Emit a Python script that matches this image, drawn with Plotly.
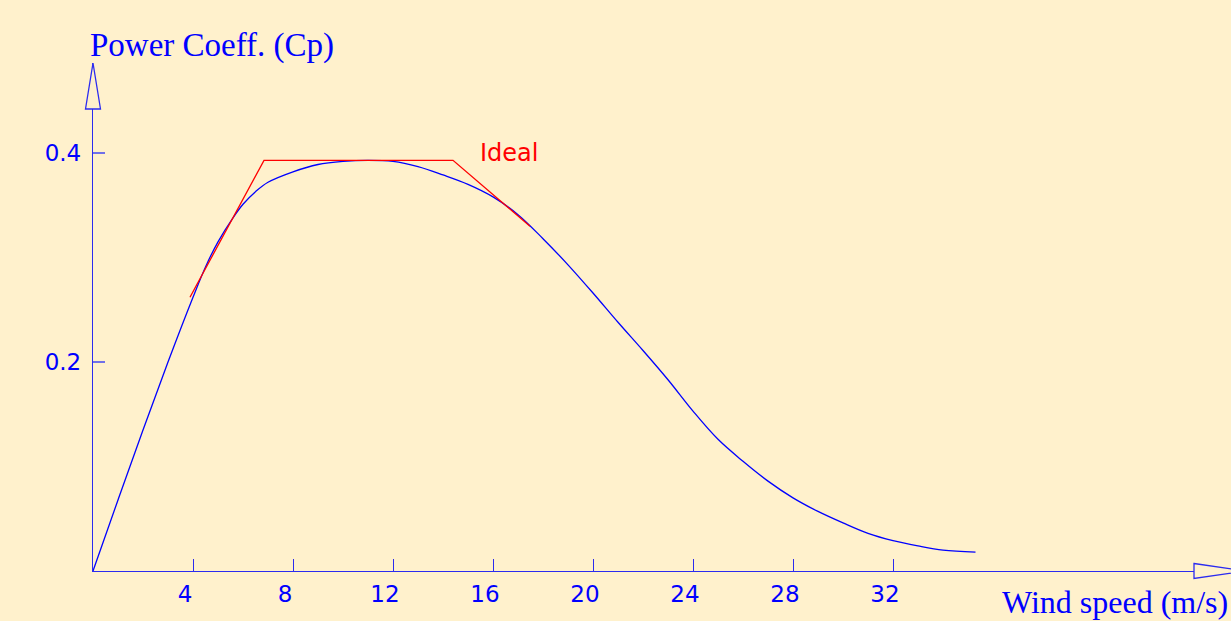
import plotly.graph_objects as go

# Measured curve (wind speed in m/s, power coefficient Cp)
wind_speed = [0, 1, 2, 3, 4, 4.5, 5, 5.6, 6, 6.5, 7, 8, 9, 10, 11, 12, 13, 14, 15, 16,
              17, 18, 19, 20, 21, 22, 23, 24, 25, 26, 27, 28, 29, 30, 31, 32, 33, 34, 35.3]
cp_actual = [0, 0.068, 0.135, 0.200, 0.262, 0.291, 0.315, 0.338, 0.351, 0.363, 0.372,
             0.382, 0.389, 0.392, 0.393, 0.392, 0.387, 0.379, 0.370, 0.358, 0.341,
             0.318, 0.293, 0.266, 0.238, 0.211, 0.183, 0.153, 0.126, 0.105, 0.086,
             0.070, 0.057, 0.046, 0.036, 0.029, 0.024, 0.020, 0.018]

# Ideal curve
ideal_speed = [3.88, 6.84, 14.4, 17.48]
ideal_cp = [0.262, 0.393, 0.393, 0.330]

x_ticks = [4, 8, 12, 16, 20, 24, 28, 32]
x_tick_text = ["4", "8", "12", "16", "20", "24", "28", "32"]
y_ticks = [0.2, 0.4]
y_tick_text = ["0.2", "0.4"]

BG = "#FFF1CC"
BLUE = "#0000FF"
AXIS = "#2B2BF0"

fig = go.Figure()
fig.add_trace(go.Scatter(x=wind_speed, y=cp_actual, mode="lines",
                         line=dict(color=BLUE, width=1.3, shape="spline", smoothing=1.0),
                         hoverinfo="skip", showlegend=False))
fig.add_trace(go.Scatter(x=ideal_speed, y=ideal_cp, mode="lines",
                         line=dict(color="#FF0000", width=1.3),
                         hoverinfo="skip", showlegend=False))

# body margin is removed in the page, so figure pixel = reference pixel
W, H = 1231, 621
ml, mt = 93, 63
mb = H - 571
mr = 0
pw = W - ml - mr
ph = H - mt - mb

fig.update_layout(
    width=W, height=H,
    paper_bgcolor=BG, plot_bgcolor=BG,
    margin=dict(l=ml, r=mr, t=mt, b=mb, pad=0),
    showlegend=False,
    xaxis=dict(range=[0, pw / 25.0], showgrid=False, zeroline=False,
               showline=True, linecolor=AXIS, linewidth=1.3,
               tickmode="array", tickvals=x_ticks, ticktext=x_tick_text,
               ticks="inside", ticklen=12, tickcolor=AXIS, tickwidth=1,
               ticklabelshift=-8, ticklabelstandoff=2,
               tickfont=dict(family="DejaVu Sans", size=23, color=BLUE),
               fixedrange=True),
    yaxis=dict(range=[0, ph / 1045.0], showgrid=False, zeroline=False,
               showline=True, linecolor=AXIS, linewidth=1.3,
               tickmode="array", tickvals=y_ticks, ticktext=y_tick_text,
               ticks="inside", ticklen=12, tickcolor="#7070E8", tickwidth=1.5,
               ticklabelstandoff=6,
               tickfont=dict(family="DejaVu Sans", size=23, color=BLUE),
               fixedrange=True),
)


def px_to_paper(px, py):
    """Convert reference-image pixels to paper coordinates."""
    return (px - ml) / pw, (H - mb - py) / ph


# Hollow arrow heads at the axis ends
bx, by0 = px_to_paper(1194, 563.5)
_, by1 = px_to_paper(1194, 578.5)
tx, ty = px_to_paper(1245, 571)
fig.add_shape(type="path", xref="paper", yref="paper",
              path=f"M {bx},{by0} L {tx},{ty} L {bx},{by1} Z",
              fillcolor=BG, line=dict(color=AXIS, width=1.3), layer="above")

lx, ly = px_to_paper(85.5, 109)
rx, _ = px_to_paper(100.5, 109)
tx2, ty2 = px_to_paper(93, 63)
fig.add_shape(type="path", xref="paper", yref="paper",
              path=f"M {lx},{ly} L {tx2},{ty2} L {rx},{ly} Z",
              fillcolor=BG, line=dict(color=AXIS, width=1.3), layer="above")

ax, ay = px_to_paper(88, 45)
fig.add_annotation(text="Power Coeff. (Cp)", xref="paper", yref="paper",
                   x=ax, y=ay, xanchor="left", yanchor="middle", showarrow=False,
                   font=dict(family="Liberation Serif", size=33, color=BLUE))
wx, wy = px_to_paper(1230, 602)
fig.add_annotation(text="Wind speed (m/s)", xref="paper", yref="paper",
                   x=wx, y=wy, xanchor="right", yanchor="middle", showarrow=False,
                   font=dict(family="Liberation Serif", size=32, color=BLUE))
fig.add_annotation(text="Ideal", x=15.4, y=0.4, xanchor="left", yanchor="middle",
                   showarrow=False,
                   font=dict(family="DejaVu Sans", size=24, color="#FF0000"))

fig.write_html("out.html", config={"displayModeBar": False},
               post_script=(f"document.body.style.margin='0';"
                            f"document.body.style.overflow='hidden';"
                            f"document.body.style.background='{BG}';"))
